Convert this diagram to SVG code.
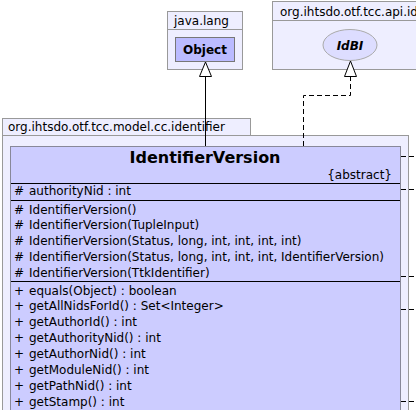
<svg xmlns="http://www.w3.org/2000/svg" width="416" height="410" viewBox="0 0 416 410">
<style>
.pkg{fill:#eeeeff;stroke:#999999;stroke-width:1}
.t{font-family:"DejaVu Sans",sans-serif;font-size:12px;fill:#000}
.b{font-weight:bold}
.name{font-size:16px}
.sep{stroke:#000;stroke-width:1}
.dash{stroke:#000;stroke-width:1;fill:none;stroke-dasharray:5,3}
.solid{stroke:#000;stroke-width:1;fill:none}
.tri{fill:#fff;stroke:#000;stroke-width:1}
</style>
<rect x="0" y="0" width="416" height="410" fill="#fff"/>
<g id="pkg-java-lang">
<rect class="pkg" x="167.5" y="11.5" width="75" height="58"/>
<line x1="167.5" y1="29.5" x2="242.5" y2="29.5" stroke="#999999"/>
<text class="t" x="174" y="25">java.lang</text>
</g>
<g id="node-Object">
<rect x="175.5" y="37.5" width="59" height="24" fill="#bbbbff" stroke="#777777"/>
<text class="t b" x="205" y="54" text-anchor="middle">Object</text>
</g>
<g id="pkg-api-id">
<rect class="pkg" x="272.5" y="1.5" width="150" height="68"/>
<line x1="272.5" y1="20.5" x2="422" y2="20.5" stroke="#999999"/>
<text class="t" x="280" y="16">org.ihtsdo.otf.tcc.api.id</text>
</g>
<g id="node-IdBI">
<ellipse cx="350" cy="45" rx="27" ry="15.5" fill="#ddddff" stroke="#aaaaaa"/>
<text class="t b" x="350" y="49.5" text-anchor="middle" font-style="italic">IdBI</text>
</g>
<g id="pkg-model">
<rect class="pkg" x="2.5" y="118.5" width="248" height="17"/>
<rect class="pkg" x="2.5" y="135.5" width="406" height="290"/>
<text class="t" x="8" y="131">org.ihtsdo.otf.tcc.model.cc.identifier</text>
</g>
<g id="node-IdentifierVersion">
<rect x="10.5" y="146.5" width="390" height="280" fill="#ccccff" stroke="#888899"/>
<text class="t b name" x="205" y="163" text-anchor="middle">IdentifierVersion</text>
<text class="t" x="392" y="179" text-anchor="end">{abstract}</text>
<line class="sep" x1="11" y1="183.5" x2="400" y2="183.5"/>
<text class="t" y="195"><tspan x="14">#</tspan><tspan x="29">authorityNid : int</tspan></text>
<line class="sep" x1="11" y1="200.5" x2="400" y2="200.5"/>
<text class="t" y="213.5"><tspan x="14">#</tspan><tspan x="29">IdentifierVersion()</tspan></text>
<text class="t" y="229.3"><tspan x="14">#</tspan><tspan x="29">IdentifierVersion(TupleInput)</tspan></text>
<text class="t" y="245.2"><tspan x="14">#</tspan><tspan x="29">IdentifierVersion(Status, long, int, int, int, int)</tspan></text>
<text class="t" y="261"><tspan x="14">#</tspan><tspan x="29">IdentifierVersion(Status, long, int, int, int, IdentifierVersion)</tspan></text>
<text class="t" y="276.9"><tspan x="14">#</tspan><tspan x="29">IdentifierVersion(TtkIdentifier)</tspan></text>
<line class="sep" x1="11" y1="281.5" x2="400" y2="281.5"/>
<text class="t" y="294.5"><tspan x="14">+</tspan><tspan x="29">equals(Object) : boolean</tspan></text>
<text class="t" y="310.4"><tspan x="14">+</tspan><tspan x="29">getAllNidsForId() : Set&lt;Integer&gt;</tspan></text>
<text class="t" y="326.2"><tspan x="14">+</tspan><tspan x="29">getAuthorId() : int</tspan></text>
<text class="t" y="342.1"><tspan x="14">+</tspan><tspan x="29">getAuthorityNid() : int</tspan></text>
<text class="t" y="357.9"><tspan x="14">+</tspan><tspan x="29">getAuthorNid() : int</tspan></text>
<text class="t" y="373.8"><tspan x="14">+</tspan><tspan x="29">getModuleNid() : int</tspan></text>
<text class="t" y="389.6"><tspan x="14">+</tspan><tspan x="29">getPathNid() : int</tspan></text>
<text class="t" y="405.5"><tspan x="14">+</tspan><tspan x="29">getStamp() : int</tspan></text>
</g>
<g id="connectors">
<line class="solid" x1="205.5" y1="146" x2="205.5" y2="76"/>
<polygon class="tri" points="205.5,62 199.5,76.5 211.5,76.5"/>
<polyline class="dash" points="303.5,146 303.5,95.5 350.5,95.5 350.5,76"/>
<polygon class="tri" points="350.5,61 344.5,76.5 356.5,76.5"/>
<line class="dash" x1="401" y1="156.5" x2="416" y2="156.5"/>
<line class="dash" x1="401" y1="189.5" x2="416" y2="189.5"/>
<line class="dash" x1="401" y1="276.5" x2="416" y2="276.5"/>
<line class="dash" x1="401" y1="309.5" x2="416" y2="309.5"/>
<line class="dash" x1="401" y1="401.5" x2="416" y2="401.5"/>
</g>
</svg>
